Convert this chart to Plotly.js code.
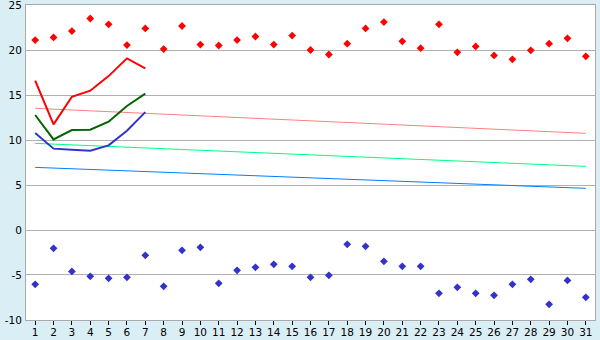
<!DOCTYPE html>
<html><head><meta charset="utf-8">
<script src="https://cdn.plot.ly/plotly-3.0.1.min.js"></script>
<style>body{margin:0;background:#daeef5}#c{width:600px;height:340px}</style>
</head><body><div id="c"></div>
<script>
const days = Array.from({length:31},(_,i)=>i+1);
const maxTemps = [21.1,21.4,22.1,23.5,22.85,20.55,22.4,20.1,22.67,20.6,20.5,21.1,21.5,20.6,21.6,20.0,19.5,20.7,22.4,23.1,20.96,20.2,22.85,19.74,20.4,19.4,18.96,19.96,20.7,21.3,19.3];
const minTemps = [-6.04,-2.04,-4.6,-5.15,-5.37,-5.26,-2.82,-6.26,-2.26,-1.93,-5.93,-4.48,-4.15,-3.81,-4.04,-5.26,-5.04,-1.59,-1.81,-3.48,-4.04,-4.04,-7.04,-6.37,-7.04,-7.26,-6.04,-5.48,-8.26,-5.6,-7.48];
const weekDays = [1,2,3,4,5,6,7];
const redLine = [16.6,11.74,14.8,15.48,17.1,19.07,17.96];
const greenLine = [12.78,10.07,11.1,11.15,12.04,13.78,15.15];
const blueLine = [10.78,9.04,8.93,8.81,9.4,11.03,13.1];
const trendDays = [1,31];
const trendHigh = [13.52,10.74];
const trendMid = [9.63,7.07];
const trendLow = [6.96,4.63];
const yTicks = [-10,-5,0,5,10,15,20,25];
const yTickText = ['-10','-5','0','5','10','15','20','25'];

const traces = [
 {x:trendDays,y:trendHigh,mode:'lines',line:{color:'#ff8080',width:1}},
 {x:trendDays,y:trendMid,mode:'lines',line:{color:'#00ff80',width:1}},
 {x:trendDays,y:trendLow,mode:'lines',line:{color:'#0080ff',width:1}},
 {x:weekDays,y:redLine,mode:'lines',line:{color:'#ff0000',width:2}},
 {x:weekDays,y:greenLine,mode:'lines',line:{color:'#006600',width:2}},
 {x:weekDays,y:blueLine,mode:'lines',line:{color:'#3333cc',width:2}},
 {x:days,y:maxTemps,mode:'markers',marker:{symbol:'diamond',size:6,color:'#ff0000'}},
 {x:days,y:minTemps,mode:'markers',marker:{symbol:'diamond',size:6,color:'#3333cc'}}
];
const layout = {
 width:600,height:340,
 margin:{l:26,r:5,t:5,b:20,pad:0},
 paper_bgcolor:'#daeef5',plot_bgcolor:'#ffffff',
 showlegend:false,
 font:{family:'DejaVu Sans, Verdana, sans-serif',size:11,color:'#000'},
 xaxis:{range:[0.5,31.5],tickvals:days,ticktext:days.map(String),ticks:'outside',ticklen:4,tickcolor:'#000',
   ticklabelstandoff:-2,
   showgrid:false,zeroline:false,showline:true,linecolor:'#aaaaaa',mirror:true,tickfont:{size:10.5}},
 yaxis:{range:[-10.001,25.001],tickvals:yTicks,ticktext:yTickText,showgrid:true,gridcolor:'#b0b0b0',gridwidth:1,zeroline:false,
   showline:true,linecolor:'#aaaaaa',mirror:true,ticks:'',ticklabelstandoff:1,ticklabeloverflow:'allow',tickfont:{size:10.5}}
};
Plotly.newPlot('c',traces,layout,{staticPlot:true,displayModeBar:false});
</script></body></html>
